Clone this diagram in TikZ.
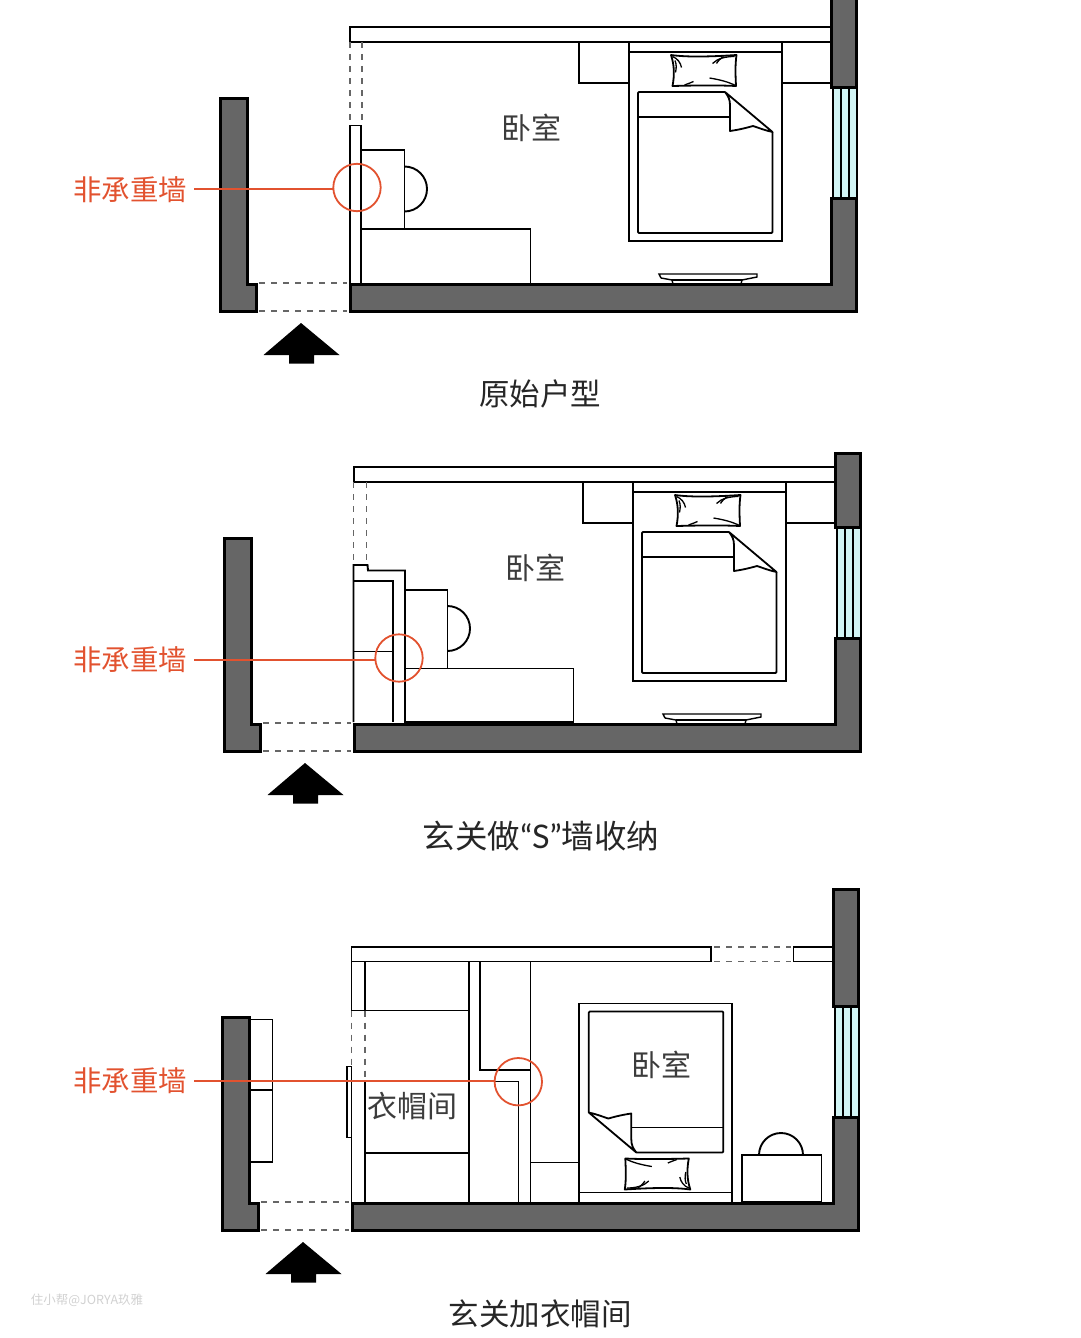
\documentclass[tikz,border=0pt]{standalone}
\usepackage{fontspec}
\setmainfont{Noto Sans CJK SC}
\newfontfamily\latinfont{Lato}
\usepackage{tikz}

\definecolor{wallgray}{HTML}{666666}
\definecolor{glasscyan}{HTML}{D2F5F5}
\definecolor{notered}{HTML}{E2522F}
\definecolor{inkgray}{HTML}{3C3C3C}

\tikzset{
  plan/.style={draw=black, line width=1.9pt, line join=miter},
  soft/.style={draw=black, line width=1.8pt, line join=round},
  wall/.style={draw=black, fill=wallgray, line width=3pt, line join=miter},
  gap/.style={draw=wallgray, line width=1.5pt, dash pattern=on 6pt off 6pt},
  glass/.style={draw=black, fill=glasscyan, line width=2pt},
  note/.style={draw=notered, line width=1.8pt},
  roomname/.style={text=inkgray, font=\fontsize{30}{30}\selectfont, inner sep=0pt},
  notename/.style={text=notered, font=\fontsize{28.4}{28.4}\selectfont, inner sep=0pt},
  caption/.style={text=black!85, font=\fontsize{30.5}{30.5}\selectfont, inner sep=0pt}
}

% walls, window, entrance; #1 is where the right wall starts
\newcommand{\roomshell}[1]{
  \fill[glasscyan] (832,87) rectangle (857,198);
  \draw[glass] (832.5,87) -- (832.5,198);
  \foreach \xw in {840.5,848.5,856.5}
    \draw[glass] (\xw,87) -- (\xw,198);
  \draw[wall] (831.5,#1) rectangle (856.5,87);
  \draw[wall] (831.5,198) -- (856.5,198) -- (856.5,311) -- (350,311) -- (350,284) -- (831.5,284) -- cycle;
  \draw[wall] (220.5,98) -- (247,98) -- (247,284) -- (256,284) -- (256,311) -- (220.5,311) -- cycle;
  \draw[gap] (259,283) -- (347,283);
  \draw[gap] (259,311) -- (347,311);
  \fill[black] (301,323) -- (339.5,355) -- (314,355) -- (314,363.5) -- (289,363.5) -- (289,355) -- (263.5,355) -- cycle;
}

% frame, duvet with the corner folded back, pillow
\newcommand{\bedunit}[3]{
  \begin{scope}[shift={(#1,#2)},rotate=#3]
    \draw[plan] (-76.5,-99.5) rectangle (76.5,99.5);
    \draw[plan] (-76.5,-89.5) -- (76.5,-89.5);
    \draw[soft, rounded corners=1pt] (19.5,-49.5) -- (-67.5,-49.5) -- (-67.5,91.5) -- (67,91.5) -- (67,-9.5);
    \draw[plan] (-67.5,-24.5) -- (24.5,-24.5);
    \draw[soft, fill=white] (19.5,-49.5) .. controls (23,-45) and (24.5,-42) .. (24.5,-36) -- (24.5,-10.5)
      .. controls (35,-12) and (42,-14) .. (47.5,-15.5) .. controls (55,-13) and (60,-11) .. (67,-9.5) -- cycle;
    \begin{scope}[shift={(-2,-71)}]
      \draw[soft] (-32.5,-15.5) .. controls (-15,-13) and (10,-14) .. (33,-15.5)
        .. controls (31.5,-5) and (32,5) .. (32.5,15.5)
        .. controls (10,14.5) and (-10,15) .. (-31,15.5)
        .. controls (-29,5) and (-29,-5) .. cycle;
      \draw[line width=1.3pt] (-31,-14) .. controls (-26,-12) and (-23,-8) .. (-22,-3);
      \draw[line width=1.3pt] (-28.5,-10) .. controls (-27,-6) and (-27,-3) .. (-28,2);
      \draw[line width=1.3pt] (31,-14) .. controls (22,-14) and (14,-12) .. (9,-7);
      \draw[line width=1.3pt] (20,-14) .. controls (17,-12) and (14,-9) .. (13,-7);
      \draw[line width=1.3pt] (32,15) .. controls (24,11) and (15,9) .. (6,7.5);
      \draw[line width=1.3pt] (-19,14.5) .. controls (-15,13) and (-12,12) .. (-10,11);
    \end{scope}
  \end{scope}
}

% the rear wall band, night tables, bed, dresser and desk shared by the first two plans
\newcommand{\roomfurniture}{
  \draw[plan] (350,27) rectangle (832,42);
  \draw[plan] (579,42) rectangle (629,83);
  \draw[plan] (782,42) rectangle (832,83);
  \bedunit{705.5}{141.5}{0}
  \draw[plan, line width=1.4pt] (661,278) -- (659,274) -- (757,274) -- (757,277) -- (742,280) -- (741,284);
  \draw[plan, line width=1.4pt] (661,278) -- (672,280) -- (673,284);
  \draw[plan, line width=1.4pt] (672,280) -- (742,280);
}

\begin{document}
\begin{tikzpicture}[x=1pt,y=-1pt]
  \useasboundingbox (0,0) rectangle (1080,1338);

  % first plan
  \roomfurniture
  \draw[gap] (350,42) -- (350,125);
  \draw[gap] (362,42) -- (362,125);
  \draw[plan] (350,125.5) rectangle (361,284);
  \draw[plan] (361,150) rectangle (404.5,229);
  \draw[plan] (404.5,166.5) arc (-90:90:22.5);
  \draw[plan] (361,229) rectangle (530.5,284);
  \roomshell{-3}
  \draw[note] (357,187.5) circle (23.7);
  \coordinate (end1) at (333.3,189);
  \node[notename] (wallname1) at (130,190) {非承重墙};
  \draw[note] (194,189) -- (end1);
  \node[roomname] (room1) at (531,128) {卧室};
  \node[caption] (title1) at (540,394) {原始户型};

  % second plan
  \begin{scope}[shift={(4,440)}]
    \roomfurniture
    \roomshell{13}
  \end{scope}
  \draw[gap] (353.5,482) -- (353.5,565);
  \draw[gap] (366.5,482) -- (366.5,565);
  \draw[plan] (353.5,722) -- (353.5,565) -- (367.5,565) -- (368,570.5) -- (405,570.5) -- (405,722);
  \draw[plan] (353.5,581) -- (393,581) -- (393,722);
  \draw[plan] (353.5,651.5) -- (393,651.5);
  \draw[plan] (405,590) rectangle (447.5,668.5);
  \draw[plan] (447.5,606) arc (-90:90:22.5);
  \draw[plan] (405,668.5) rectangle (573.5,722);
  \draw[note] (399,658) circle (23.7);
  \coordinate (end2) at (375.3,660);
  \node[notename] (wallname2) at (130,660) {非承重墙};
  \draw[note] (194,660) -- (end2);
  \node[roomname] (room2) at (535,568) {卧室};
  \node[caption, font=\fontsize{32.5}{32.5}\selectfont] (title2) at (541,836) {玄关做{\latinfont “S”}墙收纳};

  % third plan
  \draw[plan] (351.5,947) rectangle (711,961.5);
  \draw[plan] (793.5,947) rectangle (834,961.5);
  \draw[gap] (714,947) -- (791,947);
  \draw[gap] (714,961.5) -- (791,961.5);
  \draw[plan] (351.5,961.5) -- (351.5,1010.5) -- (469,1010.5);
  \draw[plan, line width=2.4pt] (365,961.5) -- (365,1010.5);
  \draw[plan] (469,961.5) -- (469,1202);
  \draw[gap] (351.5,1010.5) -- (351.5,1081);
  \draw[gap] (365,1010.5) -- (365,1081);
  \draw[plan, fill=white] (347,1066.5) rectangle (351.5,1137.5);
  \draw[plan] (351.5,1081) -- (351.5,1202);
  \draw[plan] (351.5,1081) -- (365,1081) -- (365,1202);
  \draw[plan] (365,1153) -- (469,1153);
  \draw[plan] (480,961.5) -- (480,1070) -- (530.5,1070);
  \draw[plan] (530.5,961.5) -- (530.5,1202);
  \draw[plan] (469,1081.5) -- (518.5,1081.5) -- (518.5,1202);
  \draw[plan] (530.5,1162.5) -- (579.5,1162.5);
  \bedunit{655.8}{1103}{180}
  \draw[plan] (742,1155) rectangle (821.5,1202);
  \draw[plan] (759,1155) arc (180:360:22);
  \draw[plan] (249,1019.5) rectangle (272.5,1162);
  \draw[plan] (249,1090) -- (272.5,1090);
  \begin{scope}[shift={(2,919)}]
    \roomshell{-30}
  \end{scope}
  \draw[note] (518.3,1081.7) circle (23.7);
  \coordinate (end3) at (494.6,1081);
  \node[notename] (wallname3) at (130,1081) {非承重墙};
  \draw[note] (194,1081) -- (end3);
  \node[roomname] (room3) at (661,1065) {卧室};
  \node[roomname, font=\fontsize{30}{30}\selectfont] (closet) at (412,1106) {衣帽间};
  \node[caption] (title3) at (540,1314) {玄关加衣帽间};

  \node[text=black!18, font=\fontsize{12.5}{12.5}\selectfont, inner sep=0pt] (mark) at (87,1300) {住小帮@JORYA玖雅};
\end{tikzpicture}
\end{document}
